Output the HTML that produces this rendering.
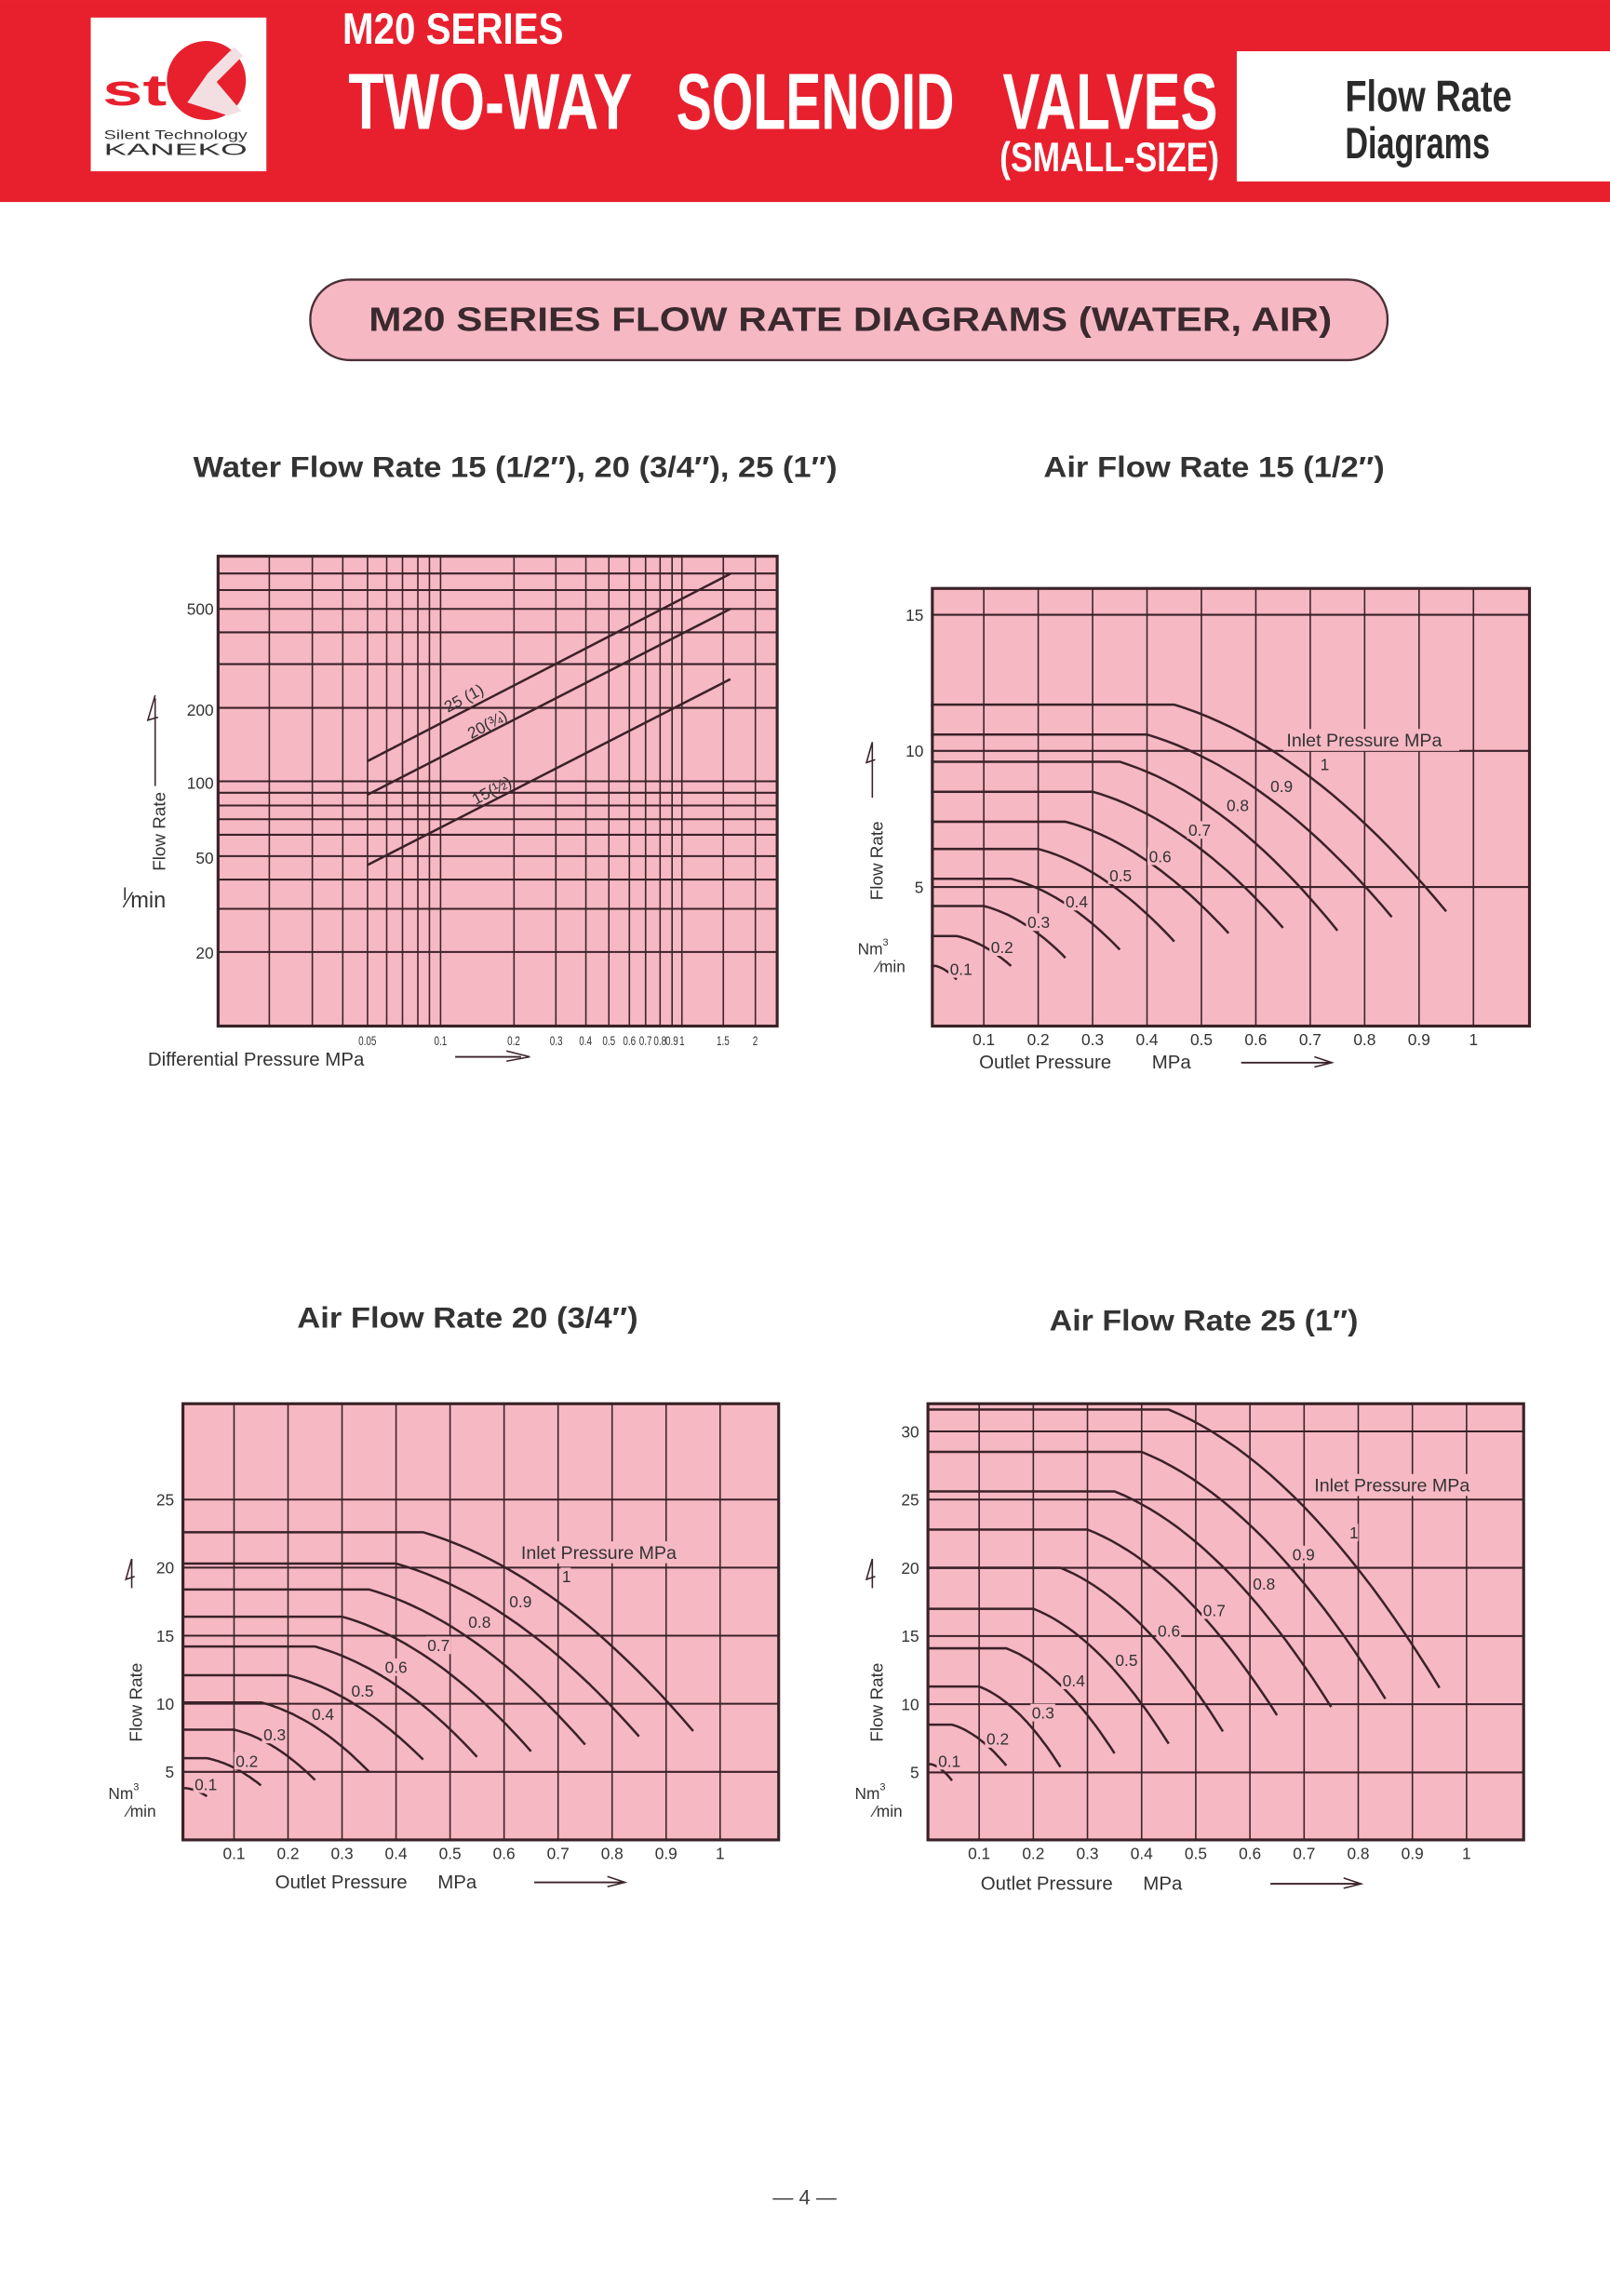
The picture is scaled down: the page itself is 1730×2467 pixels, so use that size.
<!DOCTYPE html>
<html><head><meta charset="utf-8">
<style>
html,body{margin:0;padding:0;background:#fff;}
svg{display:block;}
text{font-family:"Liberation Sans",sans-serif;}
</style></head>
<body>
<svg id="s" xmlns="http://www.w3.org/2000/svg" width="1730" height="2467" viewBox="0 0 1100 1568.6">
<rect x="0" y="0" width="1100" height="1568.6" fill="#fff"/>
<!-- header -->
<rect x="0" y="0" width="1100" height="138" fill="#e8202e"/>
<rect x="62" y="12" width="120" height="105" fill="#fff"/>
<circle cx="141" cy="55" r="27" fill="#e8202e"/>
<path d="M128 70 L142 50 L160 32 L166 38 L148 56 L165 76 L156 79 Z" fill="#f3dfe2"/>
<text x="70" y="72" font-size="30" font-weight="bold" fill="#e8202e" textLength="44" lengthAdjust="spacingAndGlyphs">st</text>
<text x="71" y="95" font-family="Liberation Serif" font-size="9" fill="#333" textLength="98" lengthAdjust="spacingAndGlyphs">Silent Technology</text>
<text x="71" y="106" font-size="11" fill="#333" textLength="98" lengthAdjust="spacingAndGlyphs">KANEKO</text>
<text x="234" y="30" font-size="30" font-weight="bold" fill="#fff" textLength="151" lengthAdjust="spacingAndGlyphs">M20 SERIES</text>
<text x="238" y="88" font-size="54" font-weight="bold" fill="#fff" textLength="194" lengthAdjust="spacingAndGlyphs">TWO-WAY</text>
<text x="462" y="88" font-size="54" font-weight="bold" fill="#fff" textLength="190" lengthAdjust="spacingAndGlyphs">SOLENOID</text>
<text x="685" y="88" font-size="54" font-weight="bold" fill="#fff" textLength="147" lengthAdjust="spacingAndGlyphs">VALVES</text>
<text x="683" y="117" font-size="28" font-weight="bold" fill="#fff" textLength="150" lengthAdjust="spacingAndGlyphs">(SMALL-SIZE)</text>
<rect x="845" y="35" width="255" height="89" fill="#fff"/>
<text x="919" y="76" font-size="30" font-weight="bold" fill="#2a2a2a" textLength="114" lengthAdjust="spacingAndGlyphs">Flow Rate</text>
<text x="919" y="108" font-size="30" font-weight="bold" fill="#2a2a2a" textLength="99" lengthAdjust="spacingAndGlyphs">Diagrams</text>
<!-- pill -->
<rect x="212" y="191" width="736" height="55" rx="27" ry="27" fill="#f6b8c3" stroke="#4a3035" stroke-width="1.5"/>
<text x="252" y="226" font-size="23" font-weight="bold" fill="#3a2a2e" textLength="658" lengthAdjust="spacingAndGlyphs">M20 SERIES FLOW RATE DIAGRAMS (WATER, AIR)</text>
<!-- titles -->
<text x="132" y="326" font-size="20" font-weight="bold" fill="#333" textLength="440" lengthAdjust="spacingAndGlyphs">Water Flow Rate 15 (1/2″), 20 (3/4″), 25 (1″)</text>
<text x="713" y="326" font-size="20" font-weight="bold" fill="#333" textLength="233" lengthAdjust="spacingAndGlyphs">Air Flow Rate 15 (1/2″)</text>
<text x="203" y="907" font-size="20" font-weight="bold" fill="#333" textLength="233" lengthAdjust="spacingAndGlyphs">Air Flow Rate 20 (3/4″)</text>
<text x="717" y="909" font-size="20" font-weight="bold" fill="#333" textLength="211" lengthAdjust="spacingAndGlyphs">Air Flow Rate 25 (1″)</text>
<text x="528" y="1506" font-size="14" fill="#444">— 4 —</text>
<g id="g"></g>
</svg>
<script>
(function(){
var g=document.getElementById('g'),out='';
var LC='#3a2228',PK='#f6b8c3';
function ln(x1,y1,x2,y2,w){out+='<line x1="'+x1+'" y1="'+y1+'" x2="'+x2+'" y2="'+y2+'" stroke="'+LC+'" stroke-width="'+(w||1)+'"/>';}
function tx(x,y,s,sz,extra){out+='<text x="'+x+'" y="'+y+'" font-size="'+sz+'" fill="#333" '+(extra||'')+'>'+s+'</text>';}
/* water chart */
out+='<rect x="149" y="380" width="382" height="321" fill="'+PK+'" stroke="'+LC+'" stroke-width="2"/>';
[184,213.4,234.2,251.1,264.2,275,285.5,293.4,301,351.2,379.8,400.3,416,430,441.1,451,459.2,465.9,494.2,516.1].forEach(function(x){ln(x,380,x,701,1);});
[391.8,403.1,416,432,453.7,483.6,533.8,541.6,550.3,559.7,570.3,584.9,600.9,620.9,650.4].forEach(function(y){ln(149,y,531,y,1.3);});
ln(251,520,499,392,1.6);ln(251,543,499,416,1.6);ln(251,591,499,464,1.6);
tx(306,487,'25 (1)',11,'transform="rotate(-28 306 487)"');
tx(322,505,'20(¾)',11,'transform="rotate(-28 322 505)"');
tx(325,550,'15(½)',11,'transform="rotate(-28 325 550)"');
[['500',420],['200',489],['100',539],['50',590],['20',655]].forEach(function(a){tx(146,a[1],a[0],11,'text-anchor="end"');});
[['0.05',251],['0.1',301],['0.2',351],['0.3',380],['0.4',400],['0.5',416],['0.6',430],['0.7',441],['0.8',451],['0.9',459],['1',466],['1.5',494],['2',516]].forEach(function(a){tx(a[1],714,a[0],9,'text-anchor="middle" transform="translate('+a[1]+' 714) scale(0.7 1) translate('+(-a[1])+' -714)"');});
tx(101,728,'Differential Pressure  MPa',13);
ln(311,722,356,722,1.2);out+='<path d="M346 718 L362 722 L346 725" fill="none" stroke="'+LC+'"/>';
tx(113,595,'Flow Rate',12,'transform="rotate(-90 113 595)"');
ln(106,537,106,477,1);out+='<path d="M106 475 L101 492 L108 490" fill="none" stroke="'+LC+'"/>';
tx(84,620,'<tspan font-size="12" dy="-5">l</tspan><tspan dy="5">⁄min</tspan>',15);
/* air charts */
function air(o){
  var X=function(p){return o.x0+p*o.kx;},Y=function(v){return o.y0-v*o.ky;};
  out+='<rect x="'+o.L+'" y="'+o.T+'" width="'+(o.R-o.L)+'" height="'+(o.B-o.T)+'" fill="'+PK+'" stroke="'+LC+'" stroke-width="2"/>';
  for(var i=1;i<=10;i++){var p=i/10;ln(X(p),o.T,X(p),o.B,1);
    tx(X(p),o.B+13,i==10?'1':p.toFixed(1),11,'text-anchor="middle"');}
  o.yt.forEach(function(v){ln(o.L,Y(v),o.R,Y(v),1.3);tx(o.L-6,Y(v)+4,v,11,'text-anchor="end"');});
  out+='<rect x="'+(o.ip[0]-2)+'" y="'+(o.ip[1]-12)+'" width="120" height="15" fill="'+PK+'"/>';
  tx(o.ip[0],o.ip[1],'Inlet Pressure MPa',12.5);
  o.c.forEach(function(c,k){
    var P=(10-k)/10,Q0=c[0],Qe=c[1],b=Math.max((P-0.1)/2,0.012),e=c[2]||(P-0.05);
    var pts=[[X(0.003),Y(Q0)],[X(b),Y(Q0)]];
    for(var j=1;j<=24;j++){var t=j/24;pts.push([X(b+(e-b)*t),Y(Q0-(Q0-Qe)*(0.4*t+0.6*t*t))]);}
    out+='<polyline fill="none" stroke="'+LC+'" stroke-width="1.6" points="'+pts.map(function(q){return q[0].toFixed(1)+','+q[1].toFixed(1);}).join(' ')+'"/>';
  });
  o.lb.forEach(function(l,k){var s=k==0?'1':((10-k)/10).toFixed(1);
    out+='<rect x="'+(l[0]-1)+'" y="'+(l[1]-10)+'" width="'+(k==0?7:17)+'" height="12" fill="'+PK+'"/>';tx(l[0],l[1],s,11);});
  tx(o.fr[0],o.fr[1],'Flow Rate',12,'transform="rotate(-90 '+o.fr[0]+' '+o.fr[1]+')"');
  ln(o.fr[0]-7,o.ar[0],o.fr[0]-7,o.ar[1],1);
  out+='<path d="M'+(o.fr[0]-7)+' '+o.ar[1]+' l-4 14 l6 -2" fill="none" stroke="'+LC+'"/>';
  tx(o.nm[0],o.nm[1],'Nm<tspan font-size="7" dy="-6">3</tspan>',11);
  tx(o.nm[0]+13,o.nm[1]+12,'⁄min',11);
  tx(o.op[0],o.op[1],'Outlet Pressure',13);tx(o.op[2],o.op[1],'MPa',13);
  ln(o.op[3],o.op[1]-4,o.op[3]+60,o.op[1]-4,1.2);
  out+='<path d="M'+(o.op[3]+50)+' '+(o.op[1]-8)+' l12 4 l-12 3" fill="none" stroke="'+LC+'"/>';
}
air({L:637,R:1045,T:402,B:701,x0:635,kx:371.7,y0:699,ky:18.6,yt:[5,10,15],ip:[879,510],
 c:[[11.7,4.1],[10.6,3.9],[9.6,3.4],[8.5,3.5],[7.4,3.3],[6.4,3.0],[5.3,2.7],[4.3,2.4],[3.2,2.1,0.15],[2.1,1.6,0.05]],
 lb:[[902,526],[868,541],[838,554],[812,571],[785,589],[758,602],[728,620],[702,634],[677,651],[649,666]],
 fr:[603,615],ar:[545,507],nm:[586,652],op:[669,730,787,848]});
air({L:125,R:532,T:959,B:1257,x0:123,kx:369,y0:1257,ky:9.3,yt:[5,10,15,20,25],ip:[356,1065],
 c:[[22.6,8.0],[20.3,7.6],[18.4,7.0],[16.4,6.5],[14.2,6.1],[12.1,5.9],[10.1,5.0],[8.1,4.4],[6.0,4.0,0.15],[3.8,3.2,0.05]],
 lb:[[384,1081],[348,1098],[320,1112],[292,1128],[263,1143],[240,1159],[213,1175],[180,1189],[161,1207],[133,1223]],
 fr:[97,1190],ar:[1085,1065],nm:[74,1229],op:[188,1290,299,365]});
air({L:634,R:1041,T:959,B:1257,x0:632,kx:370,y0:1257.5,ky:9.32,yt:[5,10,15,20,25,30],ip:[898,1019],
 c:[[31.6,11.2],[28.5,10.4],[25.6,9.8],[22.8,9.2],[20.0,8.0],[17.0,7.1],[14.1,6.4],[11.3,5.4],[8.5,5.5,0.15],[5.6,4.4,0.05]],
 lb:[[922,1051],[883,1066],[856,1086],[822,1104],[791,1118],[762,1138],[726,1152],[705,1174],[674,1192],[641,1207]],
 fr:[603,1190],ar:[1085,1065],nm:[584,1229],op:[670,1291,781,868]});
g.innerHTML=out;
})();
</script>
</body></html>
